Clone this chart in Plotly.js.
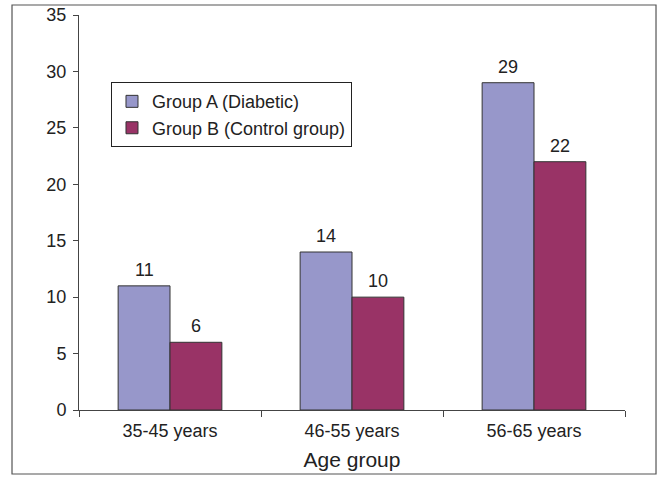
<!DOCTYPE html>
<html>
<head>
<meta charset="utf-8">
<script src="https://cdn.plot.ly/plotly-3.0.1.min.js"></script>
<style>html,body{margin:0;padding:0;background:#fff;}#chart{width:661px;height:477px;}</style>
</head>
<body>
<div id="chart"></div>
<script>
const categories = ["35-45 years", "46-55 years", "56-65 years"];
const groupA = [11, 14, 29];
const groupB = [6, 10, 22];
const seriesNames = ["Group A (Diabetic)", "Group B (Control group)"];
const yTicks = [0, 5, 10, 15, 20, 25, 30, 35];

const font = {family: "Liberation Sans, Arial, sans-serif", size: 18, color: "#222"};

const traces = [
  {type: "bar", name: seriesNames[0], x: categories, y: groupA, legendgroup: "a",
   marker: {color: "#9797ca", line: {color: "#333", width: 1}}},
  {type: "bar", name: seriesNames[1], x: categories, y: groupB, legendgroup: "b",
   marker: {color: "#993366", line: {color: "#333", width: 1}}}
];

const annotations = [];
categories.forEach((c, i) => {
  annotations.push({x: c, y: groupA[i], text: String(groupA[i]), showarrow: false,
    xshift: -26, yshift: 4, yanchor: "bottom", font: font});
  annotations.push({x: c, y: groupB[i], text: String(groupB[i]), showarrow: false,
    xshift: 26, yshift: 4, yanchor: "bottom", font: font});
});

const layout = {
  width: 661, height: 477,
  margin: {l: 79, r: 36, t: 15, b: 67},
  paper_bgcolor: "#fff", plot_bgcolor: "#fff",
  font: font,
  barmode: "group", bargap: 0.43, bargroupgap: 0,
  showlegend: true,
  legend: {x: 0.0586, y: 0.83, xanchor: "left", yanchor: "top",
           bordercolor: "#222", borderwidth: 1, bgcolor: "#fff",
           font: font, tracegroupgap: 0, itemwidth: 30},
  annotations: annotations,
  xaxis: {showline: true, linecolor: "#444", linewidth: 1,
          ticks: "outside", ticklen: 6, tickcolor: "#444", tickson: "boundaries",
          showgrid: false, zeroline: false, tickfont: font, ticklabelstandoff: 4,
          title: {text: "Age group", font: {family: font.family, size: 21, color: "#222"}, standoff: 12}},
  yaxis: {range: [0, 35], tickvals: yTicks, showline: true, linecolor: "#444", linewidth: 1,
          ticks: "outside", ticklen: 5, tickcolor: "#444", showgrid: false, zeroline: false,
          tickfont: font, ticklabelstandoff: 3},
  shapes: [{type: "rect", xref: "paper", yref: "paper",
            x0: -0.1227, x1: 1.0568, y0: -0.162, y1: 1.0253,
            line: {color: "#555", width: 1.2}, fillcolor: "rgba(0,0,0,0)"}]
};

Plotly.newPlot("chart", traces, layout, {displayModeBar: false, staticPlot: true});
</script>
</body>
</html>
